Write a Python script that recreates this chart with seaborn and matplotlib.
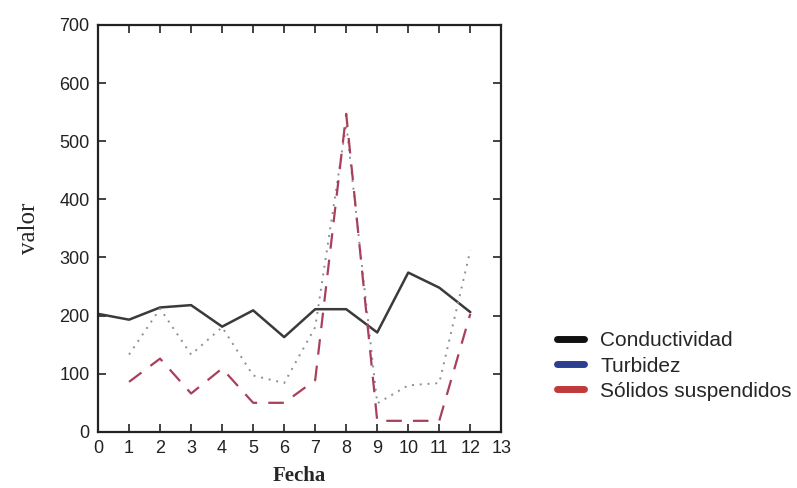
import numpy as np
import pandas as pd
import matplotlib.pyplot as plt
import seaborn as sns
from matplotlib.lines import Line2D

# valores
fecha_cond = [0, 1, 2, 3, 4, 5, 6, 7, 8, 9, 10, 11, 12]
conductividad = [203, 193, 214, 218, 181, 209, 163, 211, 211, 171, 274, 248, 206]

fecha = [1, 2, 3, 4, 5, 6, 7, 8, 9, 10, 11, 12]
turbidez = [133, 212, 133, 180, 97, 84, 180, 530, 49, 80, 84, 312]
solidos = [86, 126, 66, 109, 50, 50, 89, 547, 19, 19, 19, 203]

series = ['Conductividad', 'Turbidez', 'Sólidos suspendidos']
legend_colors = ['#111111', '#2a3f8f', '#c0393b']

sns.set_style('ticks')
plt.rcParams['font.family'] = ['Liberation Sans', 'DejaVu Sans']

fig = plt.figure(figsize=(7.97, 4.88), dpi=100)
ax = fig.add_axes([0.123, 0.115, 0.506, 0.834])

df_c = pd.DataFrame({'Fecha': fecha_cond, 'valor': conductividad})
df_t = pd.DataFrame({'Fecha': fecha, 'valor': turbidez})
df_s = pd.DataFrame({'Fecha': fecha, 'valor': solidos})

sns.lineplot(data=df_c, x='Fecha', y='valor', ax=ax, color='#3a3a3a', lw=1.8)
sns.lineplot(data=df_t, x='Fecha', y='valor', ax=ax, color='#8a8f9a', lw=1.4,
             linestyle=(0, (1, 3)))
sns.lineplot(data=df_s, x='Fecha', y='valor', ax=ax, color='#a8405a', lw=1.6,
             linestyle=(0, (7, 5)))

ax.set_xlim(0, 13)
ax.set_ylim(0, 700)
ax.set_xticks(range(0, 14))
ax.set_yticks(range(0, 701, 100))
ax.tick_params(direction='in', length=6, width=1.2, top=True, right=True,
               labelsize=13, colors='#222222', pad=6)
for s in ax.spines.values():
    s.set_linewidth(1.6)
    s.set_color('#222222')

ax.set_xlabel('Fecha', family='Liberation Serif', fontsize=15, fontweight='bold', labelpad=6)
ax.set_ylabel('valor', family='Liberation Serif', fontsize=18, labelpad=14)

handles = [Line2D([0], [0], color=c, lw=5) for c in legend_colors]
fig.legend(handles, series, loc='center left', bbox_to_anchor=(0.675, 0.25),
           frameon=False, fontsize=15, handlelength=1.3, labelspacing=0.3,
           handletextpad=0.8)

fig.savefig('out.png', dpi=100)
plt.close(fig)
